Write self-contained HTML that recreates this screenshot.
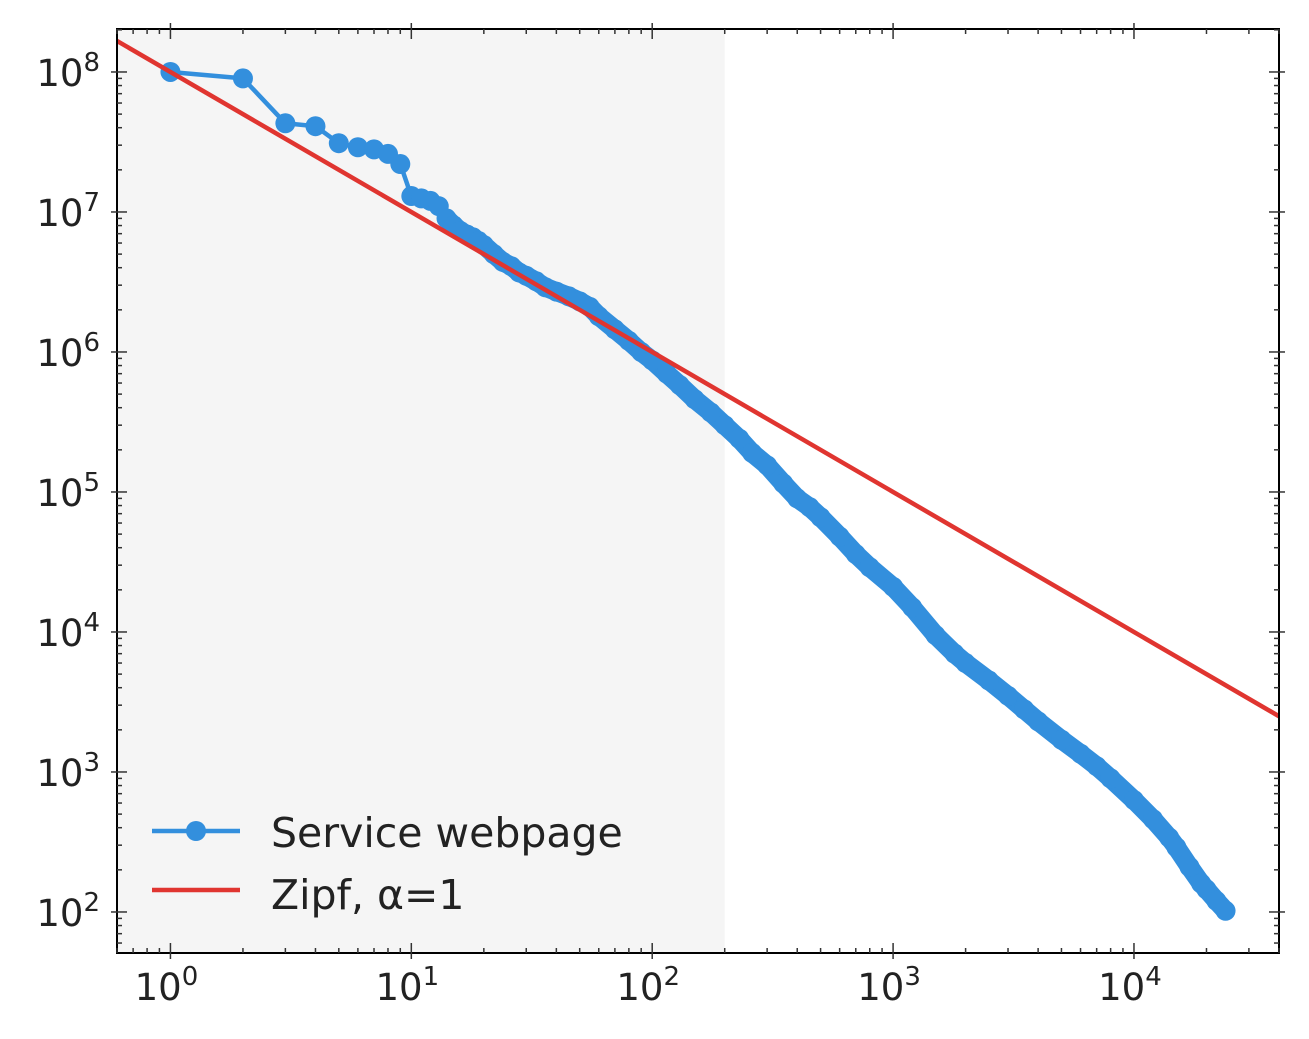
<!DOCTYPE html>
<html><head><meta charset="utf-8">
<style>
html,body{margin:0;padding:0;background:#fff;}
svg{display:block;font-family:"DejaVu Sans","Liberation Sans",sans-serif;}
</style></head>
<body>
<svg id="chart" width="1309" height="1039" viewBox="0 0 1309 1039" xmlns="http://www.w3.org/2000/svg"></svg>
<script>
const ranks  = [1,2,3,4,5,6,7,8,9,10,11,12,13,14,15,16,17,18,19,20,22,24,26,28,30,33,36,40,45,50,55,60,70,80,90,100,115,130,150,175,200,230,260,300,350,400,450,500,600,700,800,1000,1200,1500,1800,2000,2500,3000,3500,4000,5000,6000,7000,8000,10000,12000,14000,15000,17000,19000,20000,22000,24000];
const values = [1.0e8,9.0e7,4.3e7,4.1e7,3.1e7,2.9e7,2.8e7,2.6e7,2.2e7,1.3e7,1.25e7,1.2e7,1.1e7,9.0e6,8.0e6,7.3e6,6.9e6,6.6e6,6.2e6,5.8e6,5.0e6,4.4e6,4.1e6,3.7e6,3.5e6,3.2e6,2.9e6,2.7e6,2.5e6,2.3e6,2.1e6,1.8e6,1.45e6,1.2e6,1.0e6,8.7e5,7.0e5,5.8e5,4.6e5,3.7e5,3.0e5,2.4e5,1.9e5,1.55e5,1.15e5,9.0e4,7.8e4,6.6e4,4.8e4,3.6e4,2.9e4,2.1e4,1.5e4,9.5e3,7.0e3,6.0e3,4.5e3,3.5e3,2.8e3,2.3e3,1.7e3,1.35e3,1.1e3,9.0e2,6.3e2,4.6e2,3.4e2,2.9e2,2.1e2,1.6e2,1.45e2,1.2e2,1.02e2];
const xTickExps = [0,1,2,3,4];
const yTickExps = [2,3,4,5,6,7,8];
const zipfC = 1e8;
const shadeMax = 200;
const denseFrom = 13;

const L=117,R=1279,T=29,B=953;
const xMin=Math.log10(0.6), xMax=Math.log10(40000);
const yMin=1.707, yMax=8.307;
const X=v=>L+(Math.log10(v)-xMin)/(xMax-xMin)*(R-L);
const Y=v=>B-(Math.log10(v)-yMin)/(yMax-yMin)*(B-T);
const svg=document.getElementById('chart');
const NS='http://www.w3.org/2000/svg';
function mk(tag,attrs,parent){const e=document.createElementNS(NS,tag);for(const k in attrs)e.setAttribute(k,attrs[k]);(parent||svg).appendChild(e);return e;}

const clip=mk('clipPath',{id:'pc'});mk('rect',{x:L,y:T,width:R-L,height:B-T},clip);

const shade=mk('rect',{x:L,y:T,width:X(shadeMax)-L,height:B-T,fill:'#f5f5f5'});



const g=mk('g',{'clip-path':'url(#pc)'});


const pts=ranks.map((r,i)=>X(r).toFixed(1)+','+Y(values[i]).toFixed(1)).join(' ');
const line=mk('polyline',{points:pts,fill:'none',stroke:'#338fdd','stroke-width':4.5,'stroke-linejoin':'round'},g);


const dpts=ranks.slice(denseFrom).map((r,i)=>X(r).toFixed(1)+','+Y(values[i+denseFrom]).toFixed(1)).join(' ');
const band=mk('polyline',{points:dpts,fill:'none',stroke:'#338fdd','stroke-width':19,'stroke-linejoin':'round','stroke-linecap':'round'},g);


ranks.forEach((r,i)=>{
  const c=mk('circle',{cx:X(r),cy:Y(values[i]),r:10,fill:'#338fdd'},g);
  
  
});
const z0=0.6,z1=40000;
const zl=mk('line',{x1:X(z0),y1:Y(zipfC/z0),x2:X(z1),y2:Y(zipfC/z1),stroke:'#e03530','stroke-width':4.5},g);



const frame=mk('rect',{x:L,y:T,width:R-L,height:B-T,fill:'none',stroke:'#000','stroke-width':2});



const tk=mk('g',{stroke:'#333','stroke-width':1.5});


for(let e=-1;e<=4;e++){for(let m=1;m<10;m++){const v=m*Math.pow(10,e);const x=X(v);if(x<L||x>R)continue;const len=m===1?10:5;
  mk('line',{x1:x,y1:B,x2:x,y2:B-len},tk);mk('line',{x1:x,y1:T,x2:x,y2:T+len},tk);
  if(m===1){mk('line',{x1:x,y1:B,x2:x,y2:B+6},tk);mk('line',{x1:x,y1:T,x2:x,y2:T-6},tk);}}}
for(let e=1;e<=8;e++){for(let m=1;m<10;m++){const v=m*Math.pow(10,e);const y=Y(v);if(y<T||y>B)continue;const len=m===1?10:5;
  mk('line',{x1:L,y1:y,x2:L+len,y2:y},tk);mk('line',{x1:R,y1:y,x2:R-len,y2:y},tk);
  if(m===1){mk('line',{x1:L,y1:y,x2:L-6,y2:y},tk);mk('line',{x1:R,y1:y,x2:R+6,y2:y},tk);}}}

xTickExps.forEach(e=>{const t=mk('text',{x:X(Math.pow(10,e))-4,y:1000,'text-anchor':'middle','font-size':37,fill:'#222'});
  
  
  t.innerHTML='10<tspan dy="-15" font-size="26">'+e+'</tspan>';});
yTickExps.forEach(e=>{const t=mk('text',{x:100,y:Y(Math.pow(10,e))+14,'text-anchor':'end','font-size':37,fill:'#222'});
  
  
  t.innerHTML='10<tspan dy="-15" font-size="26">'+e+'</tspan>';});

const lg=mk('g',{});


mk('line',{x1:152,y1:831,x2:240,y2:831,stroke:'#338fdd','stroke-width':4.5},lg);
mk('circle',{cx:196,cy:831,r:10,fill:'#338fdd'},lg);
const t1=mk('text',{x:271,y:847,'font-size':41,fill:'#222'},lg);t1.textContent='Service webpage';


mk('line',{x1:152,y1:890,x2:240,y2:890,stroke:'#e03530','stroke-width':4.5},lg);
const t2=mk('text',{x:271,y:909,'font-size':41,fill:'#222'},lg);t2.textContent='Zipf, α=1';


</script>
</body></html>
